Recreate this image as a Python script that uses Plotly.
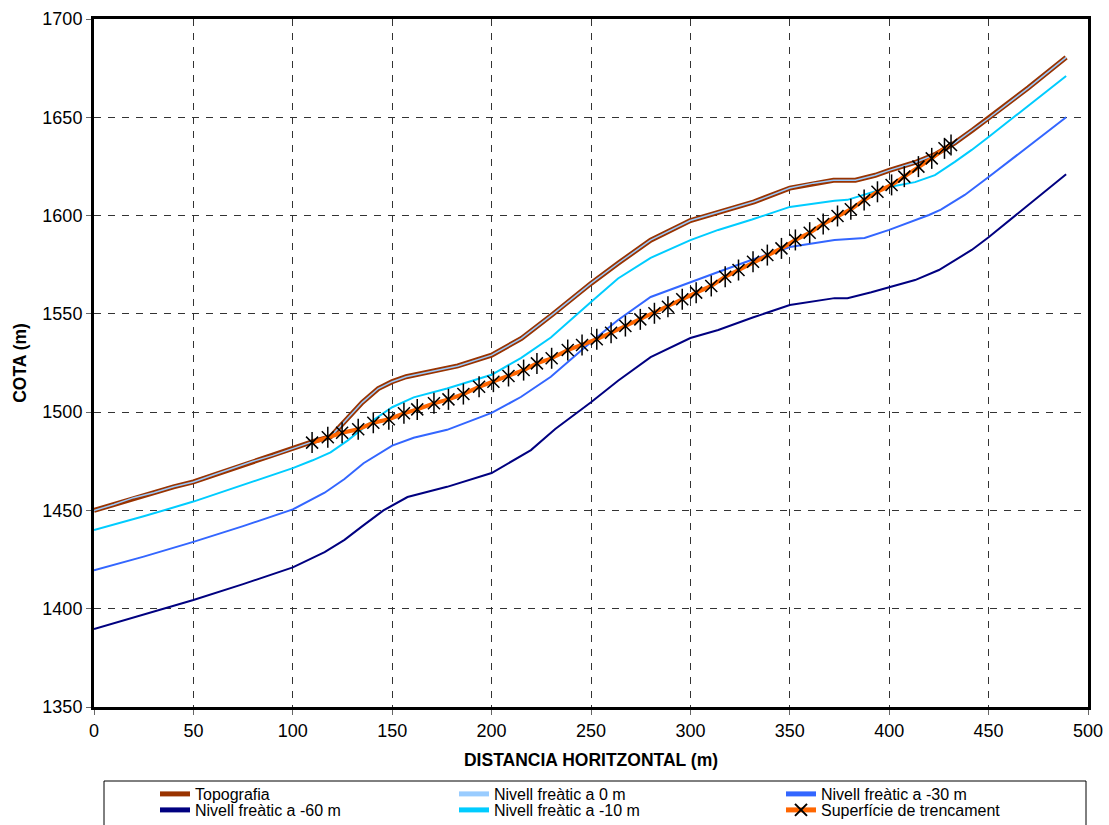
import plotly.graph_objects as go

# ---------------- data ----------------
topo_x = [0, 10, 20, 30, 40, 50, 60, 70, 80, 90, 100, 110, 119, 127, 135, 143, 150, 157,
          169, 183, 200, 215, 231, 250, 264, 280, 300, 315, 332, 350, 362, 372, 383, 393,
          400, 413, 423, 433, 442, 450, 470, 489]
topo_y = [1450, 1453, 1456.5, 1459, 1462, 1464.5, 1468, 1471.5, 1475, 1478, 1481.5, 1485,
          1487.5, 1496, 1505, 1512, 1515.5, 1518, 1520.5, 1523.5, 1529, 1537.5, 1550, 1565.5,
          1576, 1587.5, 1597.5, 1602, 1607, 1614, 1616.5, 1618, 1618, 1620.5, 1623, 1627,
          1631, 1637, 1643.5, 1649.5, 1665, 1680.5]

# water table at 0 m coincides with the topography
nf0_x = topo_x
nf0_y = topo_y

nf10_x = [0, 25, 50, 75, 100, 110, 119, 127.5, 140.6, 150, 160.8, 177.6, 200, 214.7, 229.8,
          250, 263.6, 280, 300, 314, 331, 350, 372.5, 379, 387.6, 400, 413, 423, 433, 441.5,
          450, 489]
nf10_y = [1440, 1447, 1454.5, 1463, 1471.5, 1475.5, 1479.5, 1485.5, 1496, 1502.5, 1507.5,
          1512, 1519, 1527.5, 1538, 1556, 1568, 1578.5, 1587.5, 1592.7, 1598, 1604.4, 1607.5,
          1608, 1610.5, 1614.5, 1617, 1620.6, 1627.3, 1633.4, 1640, 1671]

nf30_x = [0, 25, 50, 75, 100, 116, 126, 135.6, 150, 160.8, 177.6, 200, 214.7, 229.8, 250,
          263.6, 280, 300, 314, 331, 350, 372.5, 387.6, 400, 420, 426, 438, 450, 489]
nf30_y = [1419.5, 1426.5, 1434, 1442, 1450.5, 1459, 1466, 1474, 1483, 1487, 1491, 1499.6,
          1507.7, 1518, 1535.7, 1546.9, 1558.6, 1566.2, 1571.3, 1577.5, 1584, 1587.6, 1588.6,
          1592.7, 1600.3, 1603, 1610.5, 1619.6, 1650]

nf60_x = [0, 25, 50, 75, 100, 116, 126, 135, 145.6, 157.7, 177.6, 200, 219.8, 232, 250,
          263.6, 280, 300, 314, 331, 350, 372.5, 379, 391, 400, 413, 425, 441.5, 450, 489]
nf60_y = [1389.7, 1397, 1404.4, 1412.5, 1421, 1428.8, 1435, 1442, 1450, 1456.8, 1462, 1469,
          1480.7, 1491.4, 1505, 1516, 1528, 1537.7, 1541.8, 1548, 1554.5, 1558, 1558, 1561,
          1563.7, 1567.2, 1572.3, 1582.5, 1589, 1621]

sup_x = [109.7, 117.6, 124.8, 132.9, 140.5, 148.3, 155.9, 162.6, 171.0, 178.3, 185.8, 193.7,
         200.9, 208.5, 216.1, 222.8, 230.2, 238.3, 245.5, 252.9, 260.1, 267.3, 274.8, 281.9,
         288.7, 295.9, 302.9, 310.5, 317.5, 324.2, 331.5, 338.7, 345.8, 352.8, 360.0, 366.8,
         374.0, 380.7, 387.4, 394.1, 401.2, 407.6, 414.7, 421.4, 427.8, 431.1]
sup_y = [1484.5, 1487.2, 1489.5, 1491.3, 1494.6, 1496.4, 1499.4, 1501.4, 1504.5, 1506.5,
         1509.2, 1512.9, 1515.5, 1518.4, 1521.4, 1524.8, 1527.4, 1531.6, 1534.2, 1537.1,
         1540.4, 1543.8, 1547.2, 1550.3, 1553.6, 1557.4, 1560.8, 1564.2, 1568.9, 1572.3,
         1576.5, 1579.9, 1583.3, 1587.6, 1591.3, 1595.7, 1599.8, 1603.2, 1607.9, 1612.1,
         1615.6, 1619.8, 1624.9, 1629.1, 1634.2, 1635.9]

x_ticks = [0, 50, 100, 150, 200, 250, 300, 350, 400, 450, 500]
y_ticks = [1350, 1400, 1450, 1500, 1550, 1600, 1650, 1700]

# ---------------- figure ----------------
FONT = "Arial, Liberation Sans, sans-serif"
W, H = 1109, 825
ML, MR, MT, MB = 94, 21, 19, 118
PW, PH = W - ML - MR, H - MT - MB


def px_x(p):
    return (p - ML) / PW


def px_y(p):
    return (H - MB - p) / PH


fig = go.Figure()

# legend slots: (legend id, left pixel, row centre pixel)
col_left = [155, 454, 781]
row_mid = [794, 810]
slots = {
    "legend": (col_left[0], row_mid[0]),
    "legend2": (col_left[1], row_mid[0]),
    "legend3": (col_left[2], row_mid[0]),
    "legend4": (col_left[0], row_mid[1]),
    "legend5": (col_left[1], row_mid[1]),
    "legend6": (col_left[2], row_mid[1]),
}

fig.add_trace(go.Scatter(x=topo_x, y=topo_y, mode="lines", name="Topografia",
                         line=dict(color="#993300", width=5), legend="legend"))
fig.add_trace(go.Scatter(x=nf0_x, y=nf0_y, mode="lines", name="Nivell freàtic a 0 m",
                         line=dict(color="#99CCFF", width=1.5), legend="legend2"))
fig.add_trace(go.Scatter(x=nf30_x, y=nf30_y, mode="lines", name="Nivell freàtic a -30 m",
                         line=dict(color="#3366FF", width=2), legend="legend3"))
fig.add_trace(go.Scatter(x=nf60_x, y=nf60_y, mode="lines", name="Nivell freàtic a -60 m",
                         line=dict(color="#000080", width=2), legend="legend4"))
fig.add_trace(go.Scatter(x=nf10_x, y=nf10_y, mode="lines", name="Nivell freàtic a -10 m",
                         line=dict(color="#00CCFF", width=2), legend="legend5"))
fig.add_trace(go.Scatter(x=sup_x, y=sup_y, mode="lines+markers", name="Superfície de trencament",
                         line=dict(color="#FF6600", width=4),
                         marker=dict(symbol="x-thin-open", size=12, color="black",
                                     line=dict(color="black", width=1.5)),
                         legend="legend6"))
fig.add_trace(go.Scatter(x=sup_x, y=sup_y, mode="markers", showlegend=False,
                         marker=dict(symbol="line-ns-open", size=15, color="black",
                                     line=dict(color="black", width=1.5))))

legend_layout = {}
for lid, (lx, ly) in slots.items():
    legend_layout[lid] = dict(x=px_x(lx), y=px_y(ly), xanchor="left", yanchor="middle",
                              orientation="h", bgcolor="rgba(0,0,0,0)", borderwidth=0,
                              font=dict(family=FONT, size=16, color="black"),
                              itemsizing="constant")

fig.update_layout(
    width=W, height=H,
    margin=dict(l=ML, r=MR, t=MT, b=MB, autoexpand=False),
    paper_bgcolor="white", plot_bgcolor="white",
    font=dict(family=FONT, size=18, color="black"),
    showlegend=True,
    **legend_layout,
)

# legend frame
fig.add_shape(type="rect", xref="paper", yref="paper",
              x0=px_x(104), x1=px_x(1086), y0=px_y(781), y1=px_y(832),
              line=dict(color="black", width=1), fillcolor="rgba(0,0,0,0)", layer="below")

fig.update_xaxes(range=[0, 500], tickvals=x_ticks, ticktext=[str(v) for v in x_ticks],
                 showline=True, linecolor="black", linewidth=3, mirror=True,
                 showgrid=True, gridcolor="#333333", gridwidth=1, griddash="7px,7px",
                 zeroline=False, ticks="outside", ticklen=5, tickwidth=1, tickcolor="#666666",
                 tickfont=dict(size=18),
                 title=dict(text="<b>DISTANCIA HORITZONTAL (m)</b>", font=dict(size=17.5),
                            standoff=15))
fig.update_yaxes(range=[1350, 1700], tickvals=y_ticks, ticktext=[str(v) for v in y_ticks],
                 showline=True, linecolor="black", linewidth=3, mirror=True,
                 showgrid=True, gridcolor="#333333", gridwidth=1, griddash="7px,7px",
                 zeroline=False, ticks="outside", ticklen=5, tickwidth=1, tickcolor="#666666",
                 tickfont=dict(size=18),
                 title=dict(text="<b>COTA (m)</b>", font=dict(size=17.5), standoff=12))

fig.write_html("out.html")
